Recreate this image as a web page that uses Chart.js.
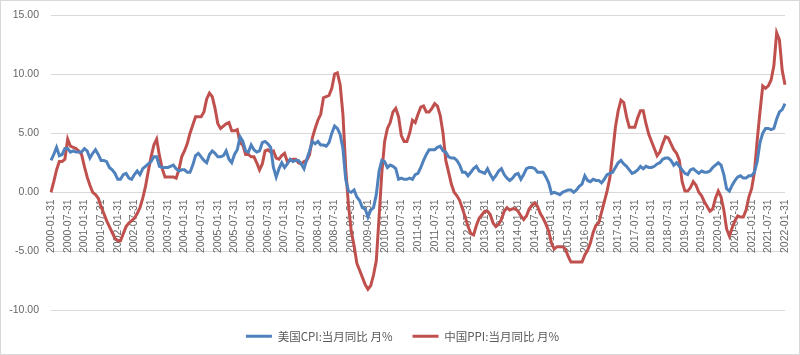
<!DOCTYPE html>
<html><head><meta charset="utf-8">
<script src="https://cdn.jsdelivr.net/npm/chart.js@4/dist/chart.umd.min.js"></script>
<style>
html,body{margin:0;padding:0;background:#fff;}
#wrap{width:800px;height:355px;box-sizing:border-box;border:1px solid #d9d9d9;background:#fff;}
canvas{display:block;}
</style></head><body>
<div id="wrap"><canvas id="c" width="798" height="353"></canvas></div>
<script>
// Monthly categories: month-end dates 2000-01-31 .. 2022-01-31
const categories = [];
for (let y = 2000; y <= 2022; y++) {
  for (let m = 1; m <= 12; m++) {
    if (y === 2022 && m > 1) break;
    const d = new Date(Date.UTC(y, m, 0)).getUTCDate();
    categories.push(y + '-' + String(m).padStart(2, '0') + '-' + d);
  }
}
// x tick labels shown every 6 months
const tickLabels = categories.filter((_, i) => i % 6 === 0);

const seriesNames = ['美国CPI:当月同比 月%', '中国PPI:当月同比 月%'];

const usCPI = [
  2.7, 3.2, 3.8, 3.1, 3.2, 3.7, 3.7, 3.4, 3.5, 3.4, 3.4, 3.4,
  3.7, 3.5, 2.9, 3.3, 3.6, 3.2, 2.7, 2.7, 2.6, 2.1, 1.9, 1.6,
  1.1, 1.1, 1.5, 1.6, 1.2, 1.1, 1.5, 1.8, 1.5, 2.0, 2.2, 2.4,
  2.6, 3.0, 3.0, 2.2, 2.1, 2.1, 2.1, 2.2, 2.3, 2.0, 1.8, 1.9,
  1.9, 1.7, 1.7, 2.3, 3.1, 3.3, 3.0, 2.7, 2.5, 3.2, 3.5, 3.3,
  3.0, 3.0, 3.1, 3.5, 2.8, 2.5, 3.2, 3.6, 4.7, 4.3, 3.5, 3.4,
  4.0, 3.6, 3.4, 3.5, 4.2, 4.3, 4.1, 3.8, 2.1, 1.3, 2.0, 2.5,
  2.1, 2.4, 2.8, 2.6, 2.7, 2.7, 2.4, 2.0, 2.8, 3.5, 4.3, 4.1,
  4.3, 4.0, 4.0, 3.9, 4.2, 5.0, 5.6, 5.4, 4.9, 3.7, 1.1, 0.1,
  0.0, 0.2, -0.4, -0.7, -1.3, -1.4, -2.1, -1.5, -1.3, -0.2, 1.8, 2.7,
  2.6, 2.1, 2.3, 2.2, 2.0, 1.1, 1.2, 1.1, 1.1, 1.2, 1.1, 1.5,
  1.6, 2.1, 2.7, 3.2, 3.6, 3.6, 3.6, 3.8, 3.9, 3.5, 3.4, 3.0,
  2.9, 2.9, 2.7, 2.3, 1.7, 1.7, 1.4, 1.7, 2.0, 2.2, 1.8, 1.7,
  1.6, 2.0, 1.5, 1.1, 1.4, 1.8, 2.0, 1.5, 1.2, 1.0, 1.2, 1.5,
  1.6, 1.1, 1.5, 2.0, 2.1, 2.1, 2.0, 1.7, 1.7, 1.7, 1.3, 0.8,
  -0.1, 0.0, -0.1, -0.2, 0.0, 0.1, 0.2, 0.2, 0.0, 0.2, 0.5, 0.7,
  1.4, 1.0, 0.9, 1.1, 1.0, 1.0, 0.8, 1.1, 1.5, 1.6, 1.7, 2.1,
  2.5, 2.7, 2.4, 2.2, 1.9, 1.6, 1.7, 1.9, 2.2, 2.0, 2.2, 2.1,
  2.1, 2.2, 2.4, 2.5, 2.8, 2.9, 2.9, 2.7, 2.3, 2.5, 2.2, 1.9,
  1.6, 1.5, 1.9, 2.0, 1.8, 1.6, 1.8, 1.7, 1.7, 1.8, 2.1, 2.3,
  2.5, 2.3, 1.5, 0.3, 0.1, 0.6, 1.0, 1.3, 1.4, 1.2, 1.2, 1.4,
  1.4, 1.7, 2.6, 4.2, 5.0, 5.4, 5.4, 5.3, 5.4, 6.2, 6.8, 7.0,
  7.5
];

const cnPPI = [
  0.0, 0.9, 1.9, 2.6, 2.6, 2.8, 4.5, 3.9, 3.8, 3.7, 3.5, 3.2,
  2.2, 1.3, 0.6, 0.0, -0.2, -0.5, -1.2, -1.8, -2.4, -2.9, -3.4, -3.9,
  -4.1, -4.1, -3.5, -2.9, -2.6, -2.4, -2.2, -1.8, -1.3, -0.5, 0.5, 1.8,
  3.0, 4.0, 4.5, 3.1, 2.0, 1.3, 1.3, 1.3, 1.3, 1.2, 1.9, 3.0,
  3.5, 4.1, 5.0, 5.7, 6.4, 6.4, 6.4, 6.8, 7.9, 8.4, 8.1, 7.1,
  5.8, 5.4, 5.6, 5.8, 5.9, 5.2, 5.2, 5.3, 4.2, 4.0, 3.2, 3.2,
  3.0, 3.0, 2.5, 1.9, 2.4, 3.5, 3.6, 3.4, 3.5, 2.9, 2.8, 3.1,
  3.3, 2.6, 2.7, 2.8, 2.8, 2.5, 2.4, 2.6, 2.7, 3.2, 4.6, 5.4,
  6.1, 6.6, 8.0, 8.1, 8.2, 8.8, 10.0, 10.1, 9.1, 6.6, 2.0, -1.1,
  -3.3, -4.5, -6.0, -6.6, -7.2, -7.8, -8.2, -7.9, -7.0, -5.8, -2.1, 1.7,
  4.3, 5.4, 5.9, 6.8, 7.1, 6.4, 4.8, 4.3, 4.3, 5.0, 6.1, 5.9,
  6.6, 7.2, 7.3, 6.8, 6.8, 7.1, 7.5, 7.3, 6.5, 5.0, 2.7, 1.7,
  0.7, 0.0, -0.3, -0.7, -1.4, -2.1, -2.9, -3.5, -3.6, -2.8, -2.2, -1.9,
  -1.6, -1.6, -1.9, -2.6, -2.9, -2.7, -2.3, -1.6, -1.3, -1.5, -1.4, -1.4,
  -1.6, -2.0, -2.3, -2.0, -1.4, -1.1, -0.9, -1.2, -1.8, -2.2, -2.7, -3.3,
  -4.3, -4.8, -4.6, -4.6, -4.6, -4.8, -5.4, -5.9, -5.9, -5.9, -5.9, -5.9,
  -5.3, -4.9, -4.3, -3.4, -2.8, -2.6, -1.7, -0.8, 0.1, 1.2, 3.3, 5.5,
  6.9, 7.8, 7.6, 6.4, 5.5, 5.5, 5.5, 6.3, 6.9, 6.9, 5.8, 4.9,
  4.3, 3.7, 3.1, 3.4, 4.1, 4.7, 4.6, 4.1, 3.6, 3.3, 2.7, 0.9,
  0.1, 0.1, 0.4, 0.9, 0.6, 0.0, -0.3, -0.8, -1.2, -1.6, -1.4, -0.5,
  0.1, -0.4, -1.5, -3.1, -3.7, -3.0, -2.4, -2.0, -2.1, -2.1, -1.5, -0.4,
  0.3, 1.7, 4.4, 6.8, 9.0, 8.8, 9.0, 9.5, 10.7, 13.5, 12.9, 10.3,
  9.1
];

const yTicks = [-10, -5, 0, 5, 10, 15];

const axisFont = { family: "'Liberation Sans', Arial, sans-serif", size: 10.5 };
const textColor = '#666666';
const gridColor = '#d9d9d9';

// shift the legend box so its items are centred like the reference
const legendShift = {
  id: 'legendShift',
  afterLayout(chart) {
    if (chart.legend) { chart.legend.left += 19; }
  }
};

new Chart(document.getElementById('c'), {
  type: 'line',
  data: {
    labels: categories,
    datasets: [
      { label: seriesNames[0], data: usCPI, borderColor: '#4f81bd', backgroundColor: '#4f81bd',
        borderWidth: 3, pointRadius: 0, tension: 0, fill: false },
      { label: seriesNames[1], data: cnPPI, borderColor: '#c0504d', backgroundColor: '#c0504d',
        borderWidth: 3, pointRadius: 0, tension: 0, fill: false }
    ]
  },
  plugins: [legendShift],
  options: {
    responsive: false,
    animation: false,
    events: [],
    layout: { padding: { left: 0, right: 14, top: 14, bottom: 2 } },
    plugins: {
      tooltip: { enabled: false },
      legend: {
        position: 'bottom',
        labels: {
          usePointStyle: true,
          pointStyle: 'line',
          pointStyleWidth: 26,
          padding: 20,
          color: '#595959',
          font: { family: "'Noto Sans CJK SC', sans-serif", size: 11.5 }
        }
      }
    },
    scales: {
      x: {
        type: 'category',
        position: { y: 0 },
        offset: false,
        afterFit: s => { s.paddingLeft = 0; s.paddingRight = 0; },
        grid: { display: false, drawTicks: false },
        border: { display: false },
        ticks: {
          autoSkip: false,
          minRotation: 90,
          maxRotation: 90,
          padding: 7,
          color: textColor,
          font: axisFont,
          callback: (v, i) => (tickLabels.includes(categories[i]) ? categories[i] : '')
        }
      },
      y: {
        min: -10,
        max: 15,
        afterFit: s => { s.width = 50; s.paddingTop = 0; s.paddingBottom = 0; },
        afterBuildTicks: s => { s.ticks = yTicks.map(v => ({ value: v })); },
        grid: { color: gridColor, lineWidth: 1, drawTicks: false },
        border: { display: false },
        ticks: {
          padding: 12,
          color: textColor,
          font: axisFont,
          callback: v => Number(v).toFixed(2)
        }
      }
    }
  }
});
</script>
</body></html>
